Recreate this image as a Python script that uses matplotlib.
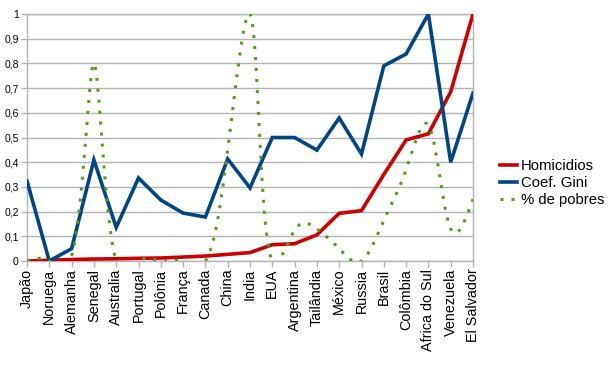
import numpy as np
import matplotlib
matplotlib.use("Agg")
import matplotlib.pyplot as plt

plt.rcParams['font.family'] = ['Liberation Sans', 'DejaVu Sans']

paises = ["Japão", "Noruega", "Alemanha", "Senegal", "Australia", "Portugal",
          "Polônia", "França", "Canada", "China", "India", "EUA", "Argentina",
          "Tailândia", "México", "Russia", "Brasil", "Colômbia", "Africa do Sul",
          "Venezuela", "El Salvador"]
homicidios = [0.0, 0.003, 0.006, 0.008, 0.009, 0.011, 0.012, 0.016, 0.02, 0.027,
              0.034, 0.066, 0.07, 0.106, 0.193, 0.204, 0.35, 0.49, 0.515, 0.685, 1.0]
gini = [0.324, 0.0, 0.05, 0.409, 0.136, 0.336, 0.247, 0.194, 0.178, 0.413, 0.296,
        0.5, 0.5, 0.449, 0.579, 0.433, 0.79, 0.838, 1.0, 0.40, 0.68]
pobres = [0.0, 0.0, 0.02, 0.8, 0.0, 0.0, 0.0, 0.0, 0.0, 0.45, 1.0, 0.0, 0.125,
          0.13, 0.05, 0.0, 0.165, 0.37, 0.55, 0.13, 0.25]

labels = ["Homicidios", "Coef. Gini", "% de pobres"]
colors = ["#cc0000", "#004586", "#579d1c"]


def natural_coeffs(t, v):
    k = len(t)
    h = np.diff(t)
    A = np.zeros((k, k))
    b = np.zeros(k)
    A[0, 0] = 1
    A[-1, -1] = 1
    for i in range(1, k - 1):
        A[i, i - 1] = h[i - 1]
        A[i, i] = 2 * (h[i - 1] + h[i])
        A[i, i + 1] = h[i]
        b[i] = 6 * ((v[i + 1] - v[i]) / h[i] - (v[i] - v[i - 1]) / h[i - 1])
    return np.linalg.solve(A, b)


def eval_spline(t, v, M, i, tt):
    h = t[i + 1] - t[i]
    a = t[i + 1] - tt
    c = tt - t[i]
    return (M[i] * a ** 3 / (6 * h) + M[i + 1] * c ** 3 / (6 * h)
            + (v[i] / h - M[i] * h / 6) * a + (v[i + 1] / h - M[i + 1] * h / 6) * c)


def smooth_line(x, y, yscale=2.0, n=50):
    # parametric natural cubic spline (chord-length parameter) for a smoothed line
    x = np.asarray(x, float)
    y = np.asarray(y, float)
    d = np.hypot(np.diff(x), np.diff(y) * yscale)
    t = np.concatenate([[0], np.cumsum(d)])
    Mx = natural_coeffs(t, x)
    My = natural_coeffs(t, y)
    xs, ys = [], []
    for i in range(len(x) - 1):
        tt = np.linspace(t[i], t[i + 1], n, endpoint=(i == len(x) - 2))
        xs.append(eval_spline(t, x, Mx, i, tt))
        ys.append(eval_spline(t, y, My, i, tt))
    return np.concatenate(xs), np.concatenate(ys)


fig = plt.figure(figsize=(6.09, 3.68), dpi=100)
ax = fig.add_axes([27 / 609, 107 / 368, 446 / 609, 247 / 368])

x = np.arange(len(paises))
ax.plot(x, homicidios, color=colors[0], lw=2.6, label=labels[0], zorder=3,
        solid_joinstyle='miter')
ax.plot(x, gini, color=colors[1], lw=2.6, label=labels[1], zorder=3,
        solid_joinstyle='miter')
sxv, syv = smooth_line(x, pobres)
ax.plot(sxv, syv, color=colors[2], lw=2.2, linestyle=(0, (1, 2.6)),
        dash_capstyle='butt', label=labels[2], zorder=3)

ax.set_xlim(0, len(paises) - 1)
ax.set_ylim(0, 1)
ax.set_yticks(np.arange(0, 1.01, 0.1))
ax.set_yticklabels(["0"] + [("%.1f" % v).replace(".", ",") for v in np.arange(0.1, 0.95, 0.1)] + ["1"])
ax.set_xticks(x)
ax.set_xticklabels(paises, rotation=90)
ax.grid(axis='y', color='#b3b3b3', lw=1)
ax.set_axisbelow(True)
for s in ax.spines.values():
    s.set_color('#b3b3b3')
    s.set_linewidth(1)
ax.tick_params(axis='y', length=4.5, width=1, color='#b3b3b3', labelsize=7.5, pad=1.5)
ax.tick_params(axis='x', length=4, width=1, color='#b3b3b3', labelsize=10.4, pad=1.5)

leg = fig.legend(loc='center left', bbox_to_anchor=(500 / 609, 1 - 183 / 368),
                 frameon=False, fontsize=10.7, handlelength=1.15, handletextpad=0.25,
                 labelspacing=0.22, borderpad=0, borderaxespad=0)

fig.savefig("out.png", dpi=100)
